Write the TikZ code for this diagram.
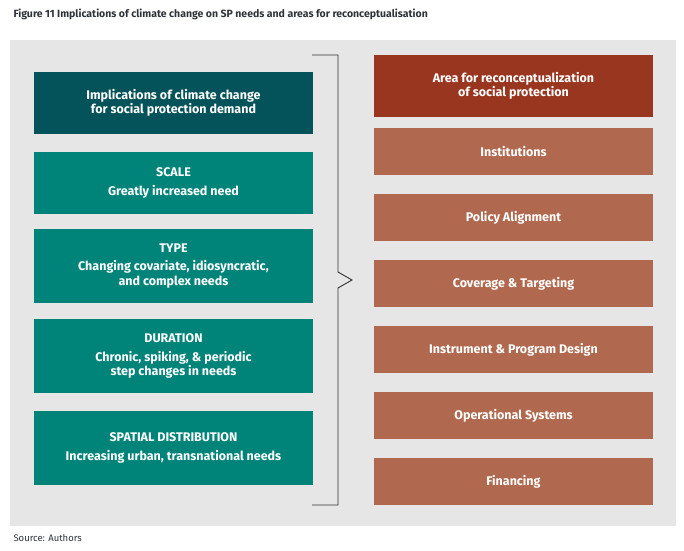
\documentclass[tikz,border=0pt]{standalone}
\usepackage{fontspec}
\setmainfont{Fira Sans}
\definecolor{panelgray}{HTML}{E5E6E5}
\definecolor{darkteal}{HTML}{05535A}
\definecolor{teal}{HTML}{00847A}
\definecolor{darkrust}{HTML}{993620}
\definecolor{rust}{HTML}{B0694E}
\definecolor{titlegray}{HTML}{2E3338}

\begin{document}
\begin{tikzpicture}[x=1pt, y=-1pt,
  box/.style = {minimum width = 279pt, inner sep = 0pt, text = white, align = center,
    font = \fontsize{12.5}{14.5}\selectfont\bfseries},
  need/.style = {box, fill = teal, minimum height = 74pt},
  area/.style = {box, fill = rust, minimum height = 47pt}]
\useasboundingbox (0, 0) rectangle (684, 550);
\node (title) at (10, 14) [anchor = west, text = titlegray, font = \fontsize{10.5}{13}\selectfont\bfseries]
  {Figure 11 Implications of climate change on SP needs and areas for reconceptualisation};
\fill[panelgray] (10, 40) rectangle (676, 526);
% left column: needs
\node (demand) at (173.5, 103) [box, fill = darkteal, minimum height = 62pt]
  {Implications of climate change\\for social protection demand};
\node (scale) at (173.5, 183) [need, minimum height = 62pt] {SCALE\\[4pt]Greatly increased need};
\node (type) at (173.5, 266) [need] {TYPE\\[4pt]Changing covariate, idiosyncratic,\\and complex needs};
\node (duration) at (173.5, 356) [need] {DURATION\\[4pt]Chronic, spiking, \& periodic\\step changes in needs};
\node (spatial) at (173.5, 448) [need] {SPATIAL DISTRIBUTION\\[4pt]Increasing urban, transnational needs};
% bracket
\coordinate (top) at (312, 55);
\coordinate (tip) at (352, 280);
\coordinate (bottom) at (312, 505);
\draw[line width = 0.9pt, color = black!80] (top) -| (338, 272) -- (tip) -- (338, 288) |- (bottom);
% right column: areas
\node (header) at (513.5, 86) [box, fill = darkrust, minimum height = 62pt]
  {Area for reconceptualization\\of social protection};
\node (institutions) at (513.5, 151.5) [area] {Institutions};
\node (policy) at (513.5, 217.5) [area] {Policy Alignment};
\node (coverage) at (513.5, 283.5) [area] {Coverage \& Targeting};
\node (instrument) at (513.5, 349.5) [area] {Instrument \& Program Design};
\node (operational) at (513.5, 415.5) [area] {Operational Systems};
\node (financing) at (513.5, 481.5) [area] {Financing};
\node (source) at (10, 538) [anchor = west, text = titlegray, font = \fontsize{9.5}{11}\selectfont] {Source: Authors};
\end{tikzpicture}
\end{document}
